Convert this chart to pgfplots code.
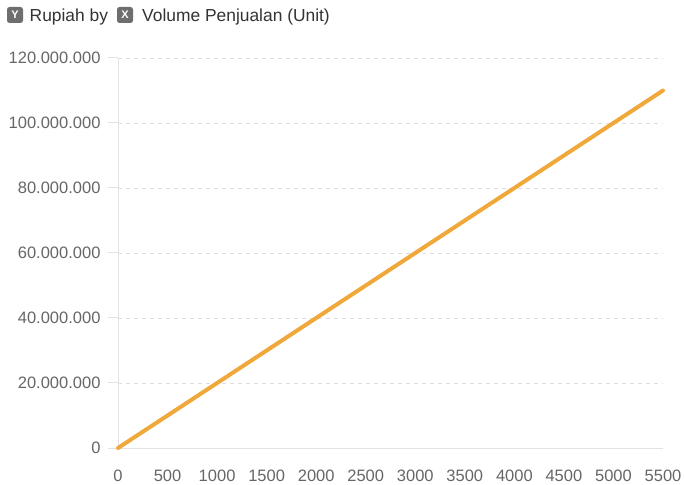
\documentclass[border=0pt]{standalone}
\usepackage{fontspec}
\setmainfont{Liberation Sans}
\usepackage{pgfplots}
\pgfplotsset{compat=1.18}
\definecolor{lineorange}{HTML}{F0A83A}
\definecolor{tickgray}{HTML}{666666}
\definecolor{gridgray}{HTML}{DDDDDD}
\definecolor{axisgray}{HTML}{E3E3E3}
\definecolor{badge}{HTML}{6E6E6E}
\definecolor{titlegray}{HTML}{333333}
\begin{document}
\begin{tikzpicture}[x=1pt,y=1pt]
\useasboundingbox (0,0) rectangle (684,484);
\begin{axis}[
  at={(118pt,36pt)}, anchor=south west,
  scale only axis, width=545pt, height=390pt,
  xmin=0, xmax=5500, ymin=0, ymax=120000000,
  axis x line=bottom, axis y line=left,
  axis line style={-, draw=axisgray, line width=1pt},
  xtick={0,500,...,5500},
  ytick={0,20000000,40000000,60000000,80000000,100000000,120000000},
  scaled y ticks=false, scaled x ticks=false,
  ymajorgrids,
  grid style={draw=gridgray, dash pattern=on 4pt off 4pt, line width=0.8pt},
  tick align=outside,
  major tick length=10pt,
  x tick style={draw=none},
  y tick style={draw=axisgray, line width=1pt},
  tick label style={font=\fontsize{16.5}{19}\selectfont, text=tickgray},
  /pgf/number format/assume math mode=true,
  yticklabel style={xshift=-4pt, /pgf/number format/.cd, fixed, precision=0, 1000 sep={.}},
  xticklabel style={yshift=-8pt, /pgf/number format/.cd, fixed, precision=0, 1000 sep={}},
  clip=false,
]
\addplot[lineorange, line width=4pt, line cap=round] coordinates {(0,0) (5500,110000000)};
\end{axis}
\node[fill=badge, rounded corners=2.5pt, text=white, minimum width=16pt, minimum height=16pt, inner sep=0pt, font=\bfseries\fontsize{11}{11}\selectfont] at (15,469) {Y};
\node[anchor=base west, inner sep=0pt, text=titlegray, font=\fontsize{17.4}{20}\selectfont] at (29.5,462) {Rupiah by};
\node[fill=badge, rounded corners=2.5pt, text=white, minimum width=16pt, minimum height=16pt, inner sep=0pt, font=\bfseries\fontsize{11}{11}\selectfont] at (125,469) {X};
\node[anchor=base west, inner sep=0pt, text=titlegray, font=\fontsize{17.4}{20}\selectfont] at (142,462) {Volume Penjualan (Unit)};
\end{tikzpicture}
\end{document}
